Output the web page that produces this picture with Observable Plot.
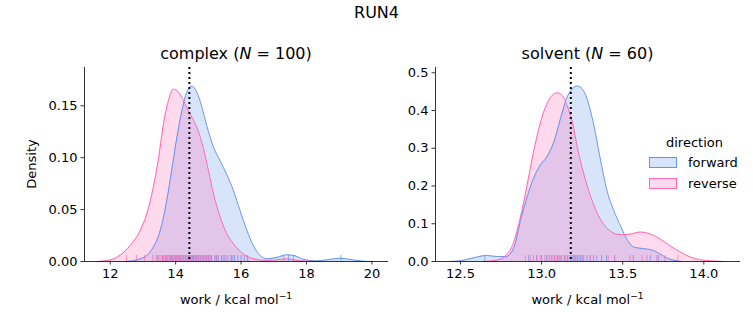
<!DOCTYPE html>
<html><head><meta charset="utf-8">
<script src="https://cdn.jsdelivr.net/npm/d3@7"></script>
<script src="https://cdn.jsdelivr.net/npm/@observablehq/plot@0.6"></script>
<style>
body{margin:0;background:#fff;font-family:"DejaVu Sans",sans-serif;}
#wrap{position:relative;width:753px;height:325px;overflow:hidden;background:#fff;}
.t{position:absolute;white-space:nowrap;color:#000;line-height:1;}
.p{position:absolute;}
sup{font-size:70%;}
</style></head><body><div id="wrap"></div>
<script>
// ---- data ----
const suptitle = "RUN4";
const panels = ["complex", "solvent"];
const panelN = [100, 60];
const directions = ["forward", "reverse"];
const colors = ["#6495ED", "#FF69B4"];

// complex: KDE curves (work, density)
const cxFwdX = [12.5,12.92,13.12,13.32,13.53,13.73,13.88,14.04,14.19,14.34,14.5,14.65,14.8,14.95,15.16,15.36,15.56,15.77,15.97,16.18,16.38,16.58,16.79,17.1,17.4,17.65,17.9,18.3,18.7,19.03,19.33,19.74,20.0];
const cxFwdY = [0,0.0026,0.006,0.014,0.030,0.059,0.088,0.12,0.145,0.163,0.169,0.163,0.149,0.131,0.110,0.097,0.084,0.068,0.049,0.030,0.015,0.006,0.0026,0.004,0.0064,0.0055,0.0022,0.0006,0.002,0.0032,0.002,0.0003,0];
const cxRevX = [11.6,12.0,12.3,12.6,12.92,13.12,13.32,13.48,13.63,13.78,13.93,14.09,14.24,14.39,14.55,14.7,14.85,15.0,15.16,15.36,15.56,15.77,15.97,16.18,16.48,16.79,17.2,17.4,17.6,18.0,18.4];
const cxRevY = [0,0.0016,0.006,0.015,0.030,0.046,0.072,0.10,0.133,0.155,0.166,0.163,0.155,0.145,0.136,0.125,0.109,0.088,0.065,0.043,0.027,0.017,0.010,0.005,0.002,0.001,0.002,0.0026,0.0016,0.0003,0];
// solvent: KDE curves
const svFwdX = [12.44,12.5,12.58,12.66,12.73,12.78,12.83,12.87,12.91,12.95,12.99,13.03,13.075,13.116,13.157,13.19,13.22,13.25,13.28,13.32,13.36,13.40,13.445,13.49,13.53,13.57,13.63,13.69,13.73,13.77,13.81,13.86];
const svFwdY = [0,0.002,0.0097,0.016,0.013,0.013,0.038,0.109,0.17,0.22,0.254,0.276,0.316,0.378,0.435,0.458,0.465,0.458,0.431,0.365,0.276,0.193,0.135,0.091,0.056,0.038,0.034,0.029,0.020,0.0097,0.004,0];
const svRevX = [12.64,12.73,12.78,12.82,12.86,12.9,12.94,12.98,13.02,13.065,13.096,13.127,13.157,13.19,13.22,13.26,13.30,13.34,13.38,13.42,13.466,13.507,13.55,13.61,13.67,13.73,13.79,13.856,13.918,13.98,14.04,14.12];
const svRevY = [0,0.004,0.016,0.042,0.10,0.179,0.268,0.347,0.405,0.44,0.447,0.44,0.413,0.369,0.303,0.232,0.175,0.131,0.10,0.082,0.072,0.071,0.073,0.078,0.073,0.06,0.042,0.025,0.0115,0.0044,0.0018,0];

// rug samples (work values)
const cxFwdRug = [13.45,13.6,13.7,13.8,13.85,13.9,13.95,14.0,14.05,14.1,14.15,14.2,14.25,14.3,14.35,14.4,14.42,14.45,14.5,14.52,14.55,14.6,14.62,14.65,14.7,14.75,14.8,14.85,14.9,14.95,15.0,15.05,15.1,15.2,15.25,15.3,15.4,15.45,15.5,15.6,15.7,15.75,15.8,15.9,16.0,16.1,16.2,17.45,17.6,19.05];
const cxRevRug = [12.5,12.8,13.05,13.3,13.4,13.45,13.5,13.55,13.6,13.62,13.65,13.7,13.72,13.75,13.8,13.85,13.88,13.9,13.95,14.0,14.02,14.05,14.1,14.12,14.15,14.2,14.25,14.3,14.35,14.4,14.45,14.5,14.55,14.6,14.65,14.7,14.75,14.8,14.85,14.9,14.95,15.0,15.05,15.1,15.2,15.3,15.4,15.55,15.7,17.3];
const svFwdRug = [12.65,12.92,12.97,13.0,13.03,13.06,13.08,13.1,13.12,13.14,13.16,13.18,13.19,13.2,13.21,13.22,13.23,13.24,13.25,13.26,13.28,13.3,13.32,13.34,13.37,13.4,13.45,13.565,13.67,13.72];
const svRevRug = [12.9,12.93,12.95,12.97,12.99,13.0,13.02,13.04,13.05,13.07,13.08,13.09,13.1,13.11,13.12,13.14,13.15,13.17,13.2,13.22,13.25,13.3,13.41,13.45,13.545,13.62,13.65,13.71,13.76,13.84];

// dotted reference lines
const refLine = [14.42, 13.18];

// axis ticks
const cxXTicks = [12,14,16,18,20];
const cxYTicks = [0,0.05,0.10,0.15];
const svXTicks = [12.5,13.0,13.5,14.0];
const svYTicks = [0,0.1,0.2,0.3,0.4,0.5];

// ---- build ----
const wrap = document.getElementById("wrap");
function zip(xs, ys, dir){ return xs.map((x,i)=>({x, y: ys[i], dir})); }
function rug(xs, dir){ return xs.map(x=>({x, dir})); }

function panel(cfg){
  const curves = [zip(cfg.fx, cfg.fy, "forward"), zip(cfg.rx, cfg.ry, "reverse")];
  const rugs = rug(cfg.frug, "forward").concat(rug(cfg.rrug, "reverse"));
  const innerH = cfg.height - cfg.mt - cfg.mb;
  const marks = [];
  curves.forEach((c,i)=>{
    marks.push(Plot.areaY(c, {x:"x", y:"y", fill: colors[i], fillOpacity: 0.25, curve:"monotone-x"}));
  });
  curves.forEach((c,i)=>{
    marks.push(Plot.lineY(c, {x:"x", y:"y", stroke: colors[i], strokeWidth: 1, curve:"monotone-x"}));
  });
  marks.push(Plot.tickX(rugs, {x:"x", stroke: d=>d.dir==="forward"?colors[0]:colors[1], strokeOpacity: 0.7, strokeWidth: 1, insetTop: innerH - 6}));
  marks.push(Plot.ruleX([cfg.ref], {stroke:"black", strokeWidth: 2, strokeDasharray:"2,3"}));
  marks.push(Plot.axisX({ticks: cfg.xt, tickFormat: cfg.xf, tickSize: 3.5, tickPadding: 3.5, label: null, strokeWidth: 0.8}));
  marks.push(Plot.axisY({ticks: cfg.yt, tickFormat: cfg.yf, tickSize: 3.5, tickPadding: 3.5, label: null, strokeWidth: 0.8}));
  marks.push(Plot.ruleY([0], {stroke:"black", strokeWidth: 0.8}));
  marks.push(Plot.ruleX([cfg.xd[0]], {stroke:"black", strokeWidth: 0.8}));
  const svg = Plot.plot({
    width: cfg.width, height: cfg.height,
    marginLeft: cfg.ml, marginRight: cfg.mr, marginTop: cfg.mt, marginBottom: cfg.mb,
    x: {domain: cfg.xd}, y: {domain: cfg.yd},
    style: {fontFamily: "DejaVu Sans", fontSize: "13px", color: "black", background: "transparent", overflow: "visible"},
    marks
  });
  svg.classList.add("p");
  svg.style.left = cfg.left + "px";
  svg.style.top = cfg.top + "px";
  wrap.appendChild(svg);
}

panel({left:0, top:40, width:400, height:260, ml:84, mr:12, mt:27, mb:39,
  xd:[11.214, 20.507], yd:[0, 0.1869], xt: cxXTicks, yt: cxYTicks,
  xf: d3.format("d"), yf: d3.format(".2f"),
  fx: cxFwdX, fy: cxFwdY, rx: cxRevX, ry: cxRevY, frug: cxFwdRug, rrug: cxRevRug, ref: refLine[0]});
panel({left:400, top:40, width:353, height:260, ml:35, mr:13, mt:27, mb:39,
  xd:[12.346, 14.226], yd:[0, 0.514], xt: svXTicks, yt: svYTicks,
  xf: d3.format(".1f"), yf: d3.format(".1f"),
  fx: svFwdX, fy: svFwdY, rx: svRevX, ry: svRevY, frug: svFwdRug, rrug: svRevRug, ref: refLine[1]});

function text(html, x, y, size, anchor, extra){
  const d = document.createElement("div");
  d.className = "t";
  d.innerHTML = html;
  d.style.fontSize = size + "px";
  d.style.left = x + "px";
  d.style.top = y + "px";
  let tf = anchor === "middle" ? "translate(-50%,-50%)" : "translate(0,-50%)";
  if (extra) tf += " " + extra;
  d.style.transform = tf;
  wrap.appendChild(d);
  return d;
}
text(suptitle, 376.5, 13, 16, "middle");
text(`${panels[0]} (<i>N</i> = ${panelN[0]})`, 236, 54, 16, "middle");
text(`${panels[1]} (<i>N</i> = ${panelN[1]})`, 587.5, 54, 16, "middle");
text("work / kcal mol<sup>−1</sup>", 236, 299, 13, "middle");
text("work / kcal mol<sup>−1</sup>", 587.5, 299, 13, "middle");
text("Density", 31, 164, 13, "middle", "rotate(-90deg)");
// legend
text("direction", 694.5, 142, 13, "middle");
directions.forEach((dir,i)=>{
  const y = 162 + i*21;
  const p = document.createElement("div");
  p.className = "p";
  p.style.left = "649px"; p.style.top = (y-5) + "px";
  p.style.width = "26px"; p.style.height = "9px";
  p.style.border = "1px solid " + colors[i];
  p.style.background = d3.color(colors[i]).copy({opacity:0.25}).formatRgb();
  wrap.appendChild(p);
  text(dir, 688, y, 13, "start");
});
</script>
</body></html>
